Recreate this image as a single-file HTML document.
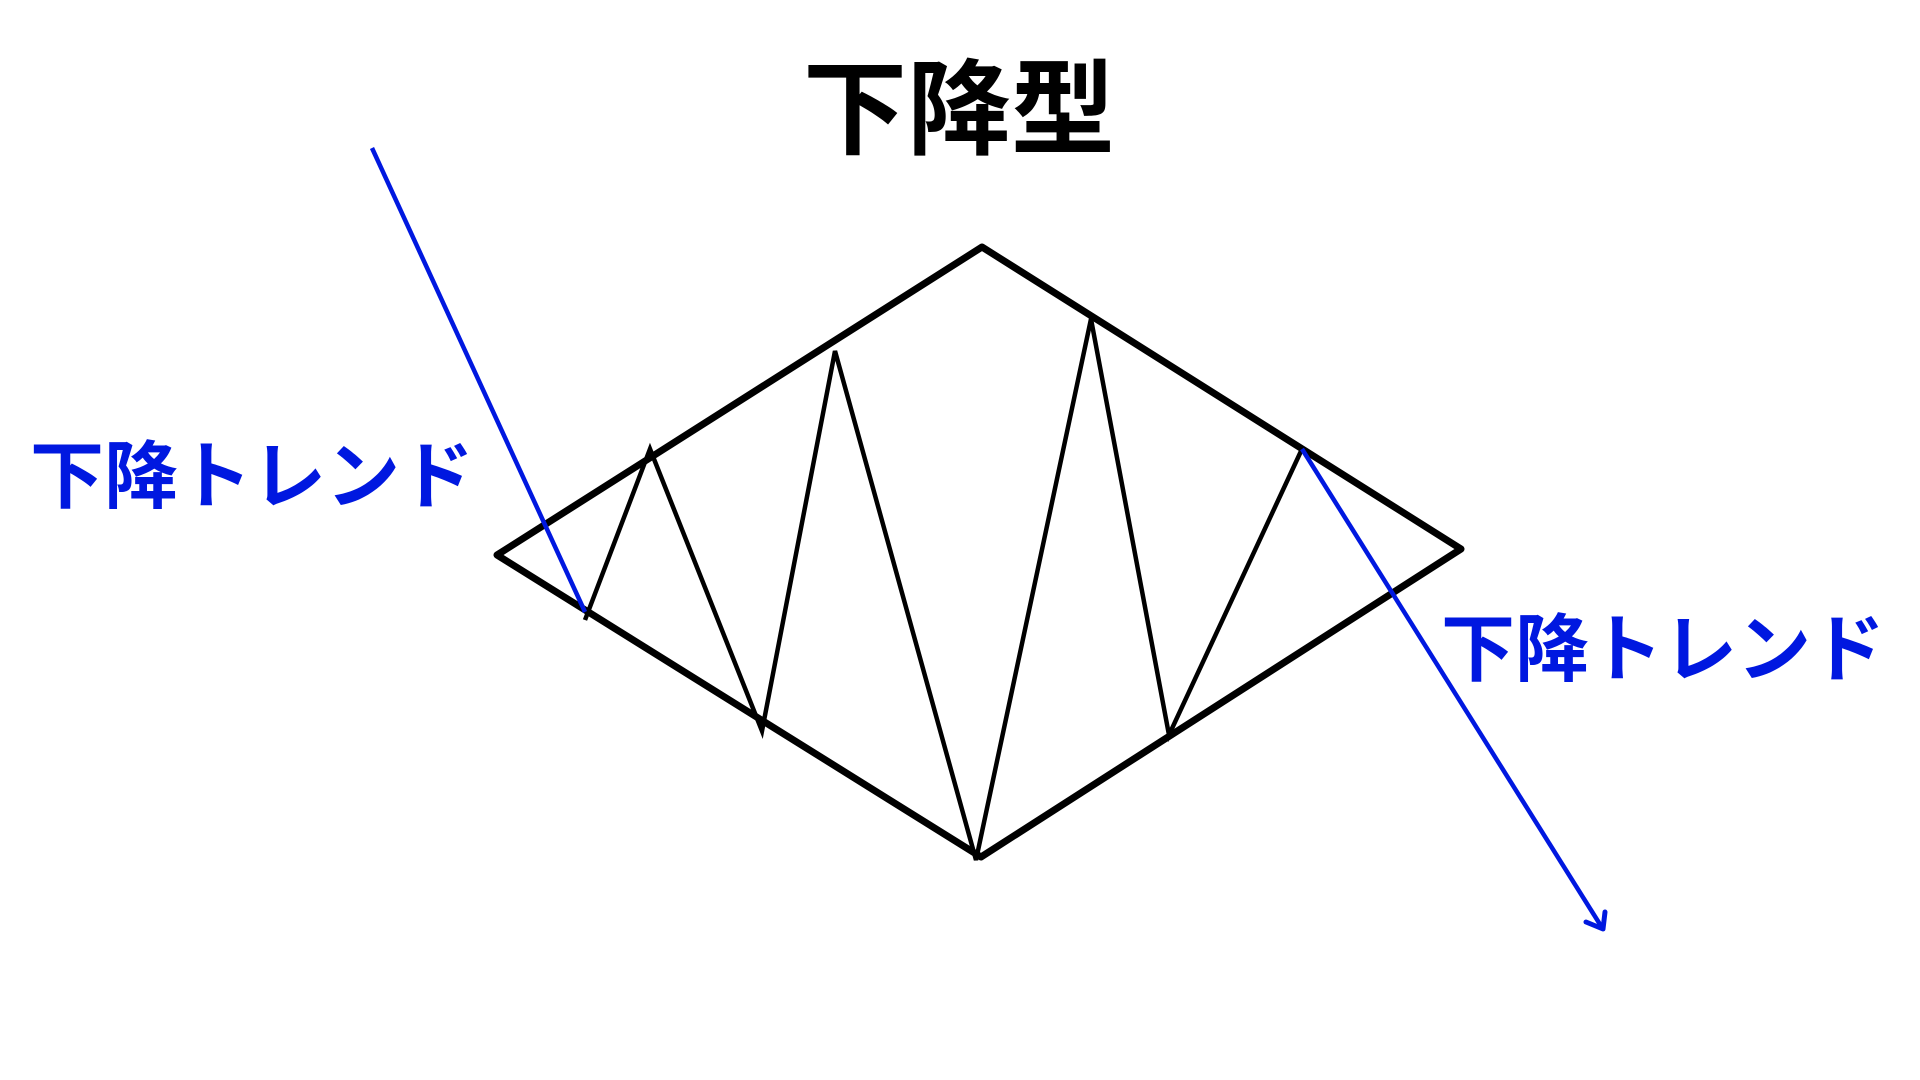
<!DOCTYPE html>
<html><head><meta charset="utf-8"><style>
html,body{margin:0;padding:0;background:#fff;}
svg{display:block}
text{font-family:"Liberation Sans","Noto Sans CJK JP",sans-serif;font-weight:bold;}
</style></head><body>
<svg width="1920" height="1080" viewBox="0 0 1920 1080" xmlns="http://www.w3.org/2000/svg">
<rect width="1920" height="1080" fill="#fff"/>
<text x="959" y="146" font-size="104" text-anchor="middle" fill="#000">下降型</text>
<text x="252" y="502" font-size="74" text-anchor="middle" fill="#0018e0">下降トレンド</text>
<text x="1663" y="675" font-size="74" text-anchor="middle" fill="#0018e0">下降トレンド</text>
<polygon points="982,247 1461,549 981,857 497,555" fill="none" stroke="#000" stroke-width="7" stroke-linejoin="round"/>
<polyline points="585,620 650,449 762,731 835,351 976,860 1091,319 1169,735 1302,449" fill="none" stroke="#000" stroke-width="4.5"/>
<line x1="372" y1="148" x2="585" y2="612" stroke="#0018e0" stroke-width="4.5"/>
<line x1="1302" y1="449" x2="1601" y2="926" stroke="#0018e0" stroke-width="4.5"/>
<polyline points="1586,922 1603,929 1605,912" fill="none" stroke="#0018e0" stroke-width="5" stroke-linecap="round" stroke-linejoin="round"/>
</svg>
</body></html>
